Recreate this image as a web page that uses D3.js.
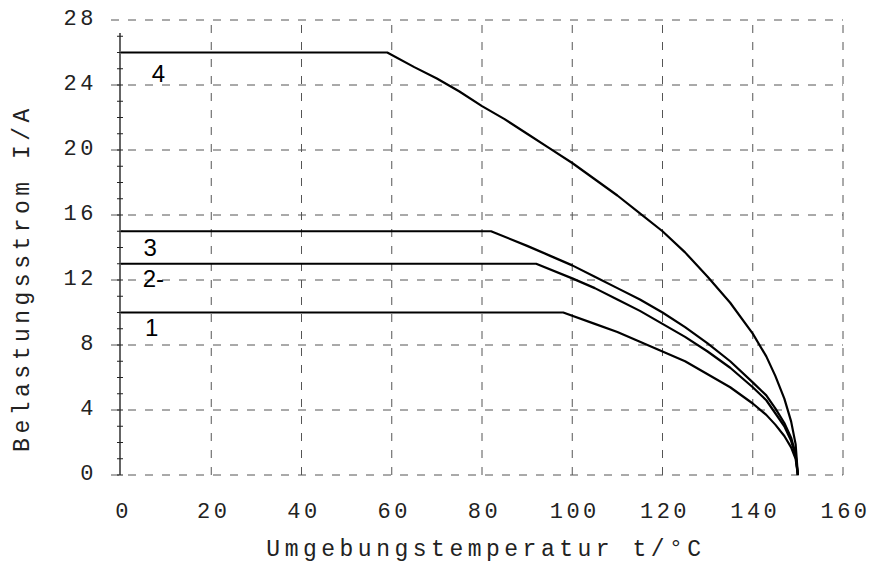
<!DOCTYPE html>
<html>
<head>
<meta charset="utf-8">
<script src="https://cdn.jsdelivr.net/npm/d3@7"></script>
<style>
  body { margin: 0; background: #fff; }
  svg { display: block; }
  .mono { font-family: "Liberation Mono", "DejaVu Sans Mono", monospace; fill: #222; }
</style>
</head>
<body>
<div id="chart"></div>
<script>
// --- DATA ---
const xTicks = [0, 20, 40, 60, 80, 100, 120, 140, 160];
const yTicks = [0, 4, 8, 12, 16, 20, 24, 28];

// [temperature °C, current A]
const curve1 = [[0, 10], [98, 10], [105, 9.3], [110, 8.8], [115, 8.2], [120, 7.6], [125, 7.0], [130, 6.2], [135, 5.4],
  [140, 4.4], [143, 3.7], [145, 3.1], [147, 2.4], [148.5, 1.7], [149.5, 1.0], [150, 0]];
const curve2 = [[0, 13], [92, 13], [100, 12.1], [105, 11.5], [110, 10.8], [115, 10.1], [120, 9.3], [125, 8.5], [130, 7.6],
  [135, 6.6], [140, 5.4], [143, 4.6], [145, 3.8], [147, 3.0], [148.5, 2.1], [149.5, 1.2], [150, 0]];
const curve3 = [[0, 15], [82, 15], [90, 14.1], [95, 13.5], [100, 12.9], [105, 12.2], [110, 11.5], [115, 10.8], [120, 10.0],
  [125, 9.1], [130, 8.1], [135, 7.0], [140, 5.7], [143, 4.9], [145, 4.1], [147, 3.2], [148.5, 2.3], [149.5, 1.3], [150, 0]];
const curve4 = [[0, 26], [59, 26], [65, 25.1], [70, 24.4], [75, 23.6], [80, 22.7], [85, 21.9], [90, 21.0], [95, 20.1],
  [100, 19.2], [105, 18.2], [110, 17.2], [115, 16.1], [120, 15.0], [125, 13.7], [130, 12.2], [135, 10.6], [140, 8.7],
  [143, 7.3], [145, 6.1], [147, 4.7], [148.5, 3.3], [149.5, 1.9], [150, 0]];

const curves = [curve1, curve2, curve3, curve4];
const curveLabels = [
  { text: "1", at: [5.3, 8.55] },
  { text: "3", at: [5.0, 13.5] },
  { text: "2-", at: [4.8, 11.6] },
  { text: "4", at: [6.8, 24.2] }
];

const width = 877, height = 573;

const svg = d3.select("#chart").append("svg")
  .attr("width", width)
  .attr("height", height);

const x = d3.scaleLinear().domain([0, 160]).range([121, 843]);
const y = d3.scaleLinear().domain([0, 28]).range([475, 20]);

// --- GRID (dashed) ---
const grid = svg.append("g")
  .attr("stroke", "#555")
  .attr("stroke-width", 1)
  .attr("stroke-dasharray", "8,9");

grid.selectAll("line.h")
  .data(yTicks)
  .join("line")
  .attr("class", "h")
  .attr("x1", x(0) - 10)
  .attr("x2", x(160))
  .attr("y1", d => y(d))
  .attr("y2", d => y(d));

grid.selectAll("line.v")
  .data(xTicks.filter(d => d > 0))
  .join("line")
  .attr("class", "v")
  .attr("x1", d => x(d))
  .attr("x2", d => x(d))
  .attr("y1", y(0))
  .attr("y2", y(28));

// --- LEFT AXIS LINE with minor ticks ---
svg.append("line")
  .attr("x1", x(0) - 1).attr("x2", x(0) - 1)
  .attr("y1", y(27.2)).attr("y2", y(0))
  .attr("stroke", "#111")
  .attr("stroke-width", 1.3);

svg.append("g")
  .selectAll("line")
  .data(d3.range(0, 28, 1))
  .join("line")
  .attr("x1", x(0) - 4)
  .attr("x2", x(0) + 2)
  .attr("y1", d => y(d))
  .attr("y2", d => y(d))
  .attr("stroke", "#222")
  .attr("stroke-width", 1);

// --- TICK LABELS ---
const xAxis = svg.append("g")
  .attr("transform", `translate(0,${y(0)})`)
  .call(d3.axisBottom(x).tickValues(xTicks).tickSize(0).tickPadding(27).tickFormat(d3.format("d")));
xAxis.select(".domain").remove();
xAxis.selectAll("text")
  .attr("class", "mono")
  .attr("font-size", 22)
  .style("letter-spacing", "3.5px")
  .attr("dx", 2);

const yAxis = svg.append("g")
  .attr("transform", `translate(${x(0)},0)`)
  .call(d3.axisLeft(y).tickValues(yTicks).tickSize(0).tickPadding(24).tickFormat(d3.format("d")));
yAxis.select(".domain").remove();
yAxis.selectAll("text")
  .attr("class", "mono")
  .attr("font-size", 22)
  .style("letter-spacing", "3.5px")
  .attr("dy", "0.2em");

// --- AXIS TITLES ---
svg.append("text")
  .attr("class", "mono")
  .attr("x", 486)
  .attr("y", 556)
  .attr("text-anchor", "middle")
  .attr("font-size", 23)
  .style("letter-spacing", "4.5px")
  .text("Umgebungstemperatur t/°C");

svg.append("text")
  .attr("class", "mono")
  .attr("transform", "translate(29,278) rotate(-90)")
  .attr("text-anchor", "middle")
  .attr("font-size", 23)
  .style("letter-spacing", "4.5px")
  .text("Belastungsstrom I/A");

// --- CURVES ---
const line = d3.line()
  .x(d => x(d[0]))
  .y(d => y(d[1]));

svg.append("g")
  .selectAll("path")
  .data(curves)
  .join("path")
  .attr("d", line)
  .attr("fill", "none")
  .attr("stroke", "#000")
  .attr("stroke-width", 2.2)
  .attr("stroke-linejoin", "round");

// --- CURVE NUMBERS ---
svg.append("g")
  .selectAll("text")
  .data(curveLabels)
  .join("text")
  .attr("x", d => x(d.at[0]))
  .attr("y", d => y(d.at[1]))
  .attr("font-family", "Liberation Sans, Arial, sans-serif")
  .attr("font-size", 24)
  .attr("fill", "#000")
  .text(d => d.text);
</script>
</body>
</html>
